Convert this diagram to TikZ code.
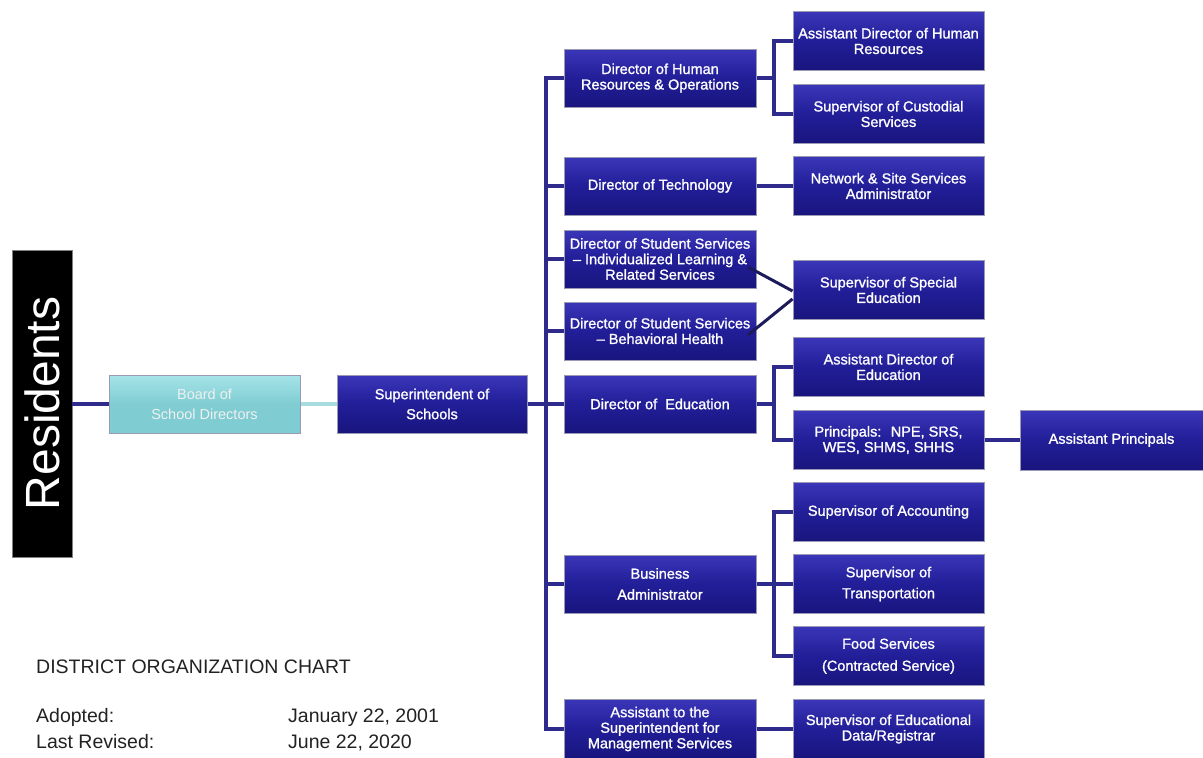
\documentclass[tikz,border=0pt]{standalone}
\usepackage{fontspec}
\setmainfont{Liberation Sans}
\newfontfamily\boxfont[FakeBold=1.2]{Liberation Sans}
\definecolor{nvtop}{HTML}{3A36B8}
\definecolor{nvmid}{HTML}{221E98}
\definecolor{nvbot}{HTML}{18157E}
\definecolor{nvline}{HTML}{2E2B8C}
\definecolor{diag}{HTML}{1C1A5A}
\definecolor{teal}{HTML}{7FCDD2}
\definecolor{tealtop}{HTML}{A6E4E8}
\definecolor{teallink}{HTML}{A9DCDF}
\definecolor{boxedge}{HTML}{9A9AB4}
\definecolor{txt}{HTML}{222222}
\begin{document}
\begin{tikzpicture}[x=1pt,y=-1pt,
  nbox/.style={rectangle, top color=nvtop, bottom color=nvbot, middle color=nvmid,
    draw=boxedge, line width=1pt, text=white, align=center, inner sep=1pt,
    font=\boxfont\fontsize{14.5}{15.5}\selectfont},
  dbox/.style={nbox, minimum width=192, minimum height=58},
  rbox/.style={nbox, minimum width=191, minimum height=59},
  conn/.style={draw=nvline, line width=3.4pt},
  plain/.style={text=txt, anchor=base west, inner sep=0pt, font=\fontsize{19.5}{22}\selectfont}
]
\useasboundingbox (0,0) rectangle (1203,758);
% left column
\node[rectangle, fill=black, draw=gray, line width=1pt, rotate=90, minimum width=307, minimum height=60,
  inner sep=0pt, text=white, font=\fontsize{48}{50}\selectfont] (res) at (42,403.5) {Residents};
\node[rectangle, top color=tealtop, bottom color=teal, middle color=teal, draw=boxedge, line width=1pt,
  minimum width=191, minimum height=58, align=center, inner sep=1pt, text=white!88!gray,
  font=\fontsize{14.5}{20}\selectfont] (board) at (204.5,404) {Board of\\School Directors};
\node[nbox, minimum width=190, minimum height=58, font=\boxfont\fontsize{14.5}{20}\selectfont] (sup) at (432,404) {Superintendent of\\Schools};
% directors
\node[dbox] (hr) at (660,78) {Director of Human\\Resources \& Operations};
\node[dbox] (tech) at (660,186) {Director of Technology};
\node[dbox] (ss1) at (660,259) {Director of Student Services\\– Individualized Learning \&\\Related Services};
\node[dbox] (ss2) at (660,331) {Director of Student Services\\– Behavioral Health};
\node[dbox] (edu) at (660,404) {Director of \ Education};
\node[dbox, font=\boxfont\fontsize{14.5}{21}\selectfont] (bus) at (660,584) {Business\\Administrator};
\node[dbox, minimum height=60] (asst) at (660,729) {Assistant to the\\Superintendent for\\Management Services};
% right column
\node[rbox] (ahr) at (888.5,41) {Assistant Director of Human\\Resources};
\node[rbox] (cust) at (888.5,114) {Supervisor of Custodial\\Services};
\node[rbox] (net) at (888.5,186) {Network \& Site Services\\Administrator};
\node[rbox] (sped) at (888.5,290) {Supervisor of Special\\Education};
\node[rbox] (ade) at (888.5,367) {Assistant Director of\\Education};
\node[rbox] (prin) at (888.5,440) {Principals: \ NPE, SRS,\\WES, SHMS, SHHS};
\node[rbox] (acct) at (888.5,512) {Supervisor of Accounting};
\node[rbox, font=\boxfont\fontsize{14.5}{21}\selectfont] (trans) at (888.5,584) {Supervisor of\\Transportation};
\node[rbox, font=\boxfont\fontsize{14.5}{22}\selectfont] (food) at (888.5,656) {Food Services\\(Contracted Service)};
\node[rbox] (data) at (888.5,729) {Supervisor of Educational\\Data/Registrar};
\node[nbox, minimum width=183, minimum height=60] (ap) at (1111.5,440) {Assistant Principals};
% connectors
\coordinate (sp) at (546,404);
\coordinate (rb) at (72,404);
\draw[conn] (rb) -- (board.west);
\draw[draw=teallink, line width=3.4pt] (board.east) -- (sup.west);
\draw[conn] (sup.east) -- (sp);
\draw[conn] (hr.west) -| (sp) |- (asst.west);
\draw[conn] (tech.west) -- (tech.west -| sp);
\draw[conn] (ss1.west) -- (ss1.west -| sp);
\draw[conn] (ss2.west) -- (ss2.west -| sp);
\draw[conn] (edu.west) -- (sp);
\draw[conn] (bus.west) -- (bus.west -| sp);
\coordinate (x1) at (774,78);
\draw[conn] (hr.east) -- (x1);
\draw[conn] (ahr.west) -| (x1) |- (cust.west);
\draw[conn] (tech.east) -- (net.west);
\coordinate (x2) at (774,404);
\draw[conn] (edu.east) -- (x2);
\draw[conn] (ade.west) -| (x2) |- (prin.west);
\coordinate (x3) at (774,584);
\draw[conn] (acct.west) -| (x3) |- (food.west);
\draw[conn] (bus.east) -- (trans.west);
\draw[conn] (asst.east) -- (data.west);
\draw[conn] (prin.east) -- (ap.west);
\coordinate (d1) at (748,267);
\coordinate (d2) at (748,335);
\draw[draw=diag, line width=3pt] (d1) -- (sped.west |- 0,291);
\draw[draw=diag, line width=3pt] (d2) -- (sped.west |- 0,299);
% footer text
\node[plain] (title) at (36,673) {DISTRICT ORGANIZATION CHART};
\node[plain] (ad) at (36,722) {Adopted:};
\node[plain] (adv) at (288,722) {January 22, 2001};
\node[plain] (lr) at (36,748) {Last Revised:};
\node[plain] (lrv) at (288,748) {June 22, 2020};
\end{tikzpicture}
\end{document}
